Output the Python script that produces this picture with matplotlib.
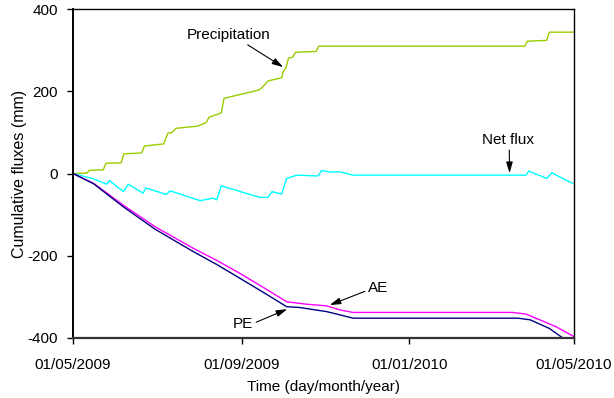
import numpy as np
import matplotlib
matplotlib.use("Agg")
import matplotlib.pyplot as plt
import matplotlib.dates as mdates

plt.rcParams['font.family'] = ['Liberation Sans', 'DejaVu Sans']
plt.rcParams['axes.unicode_minus'] = False

start = np.datetime64('2009-05-01')

# cumulative precipitation (days since 01/05/2009, mm)
precip_days = [0, 10, 12, 22, 24, 35, 37, 50, 52, 66, 69, 72, 75, 90, 92, 97, 99,
               106, 108, 110, 135, 137, 142, 144, 152, 153, 155, 157, 160, 162,
               177, 179, 329, 331, 345, 347, 365]
precip_vals = [0, 1, 8, 9, 25, 26, 48, 50, 67, 72, 98, 100, 110, 115, 117, 124, 137,
               145, 148, 183, 203, 207, 225, 227, 233, 248, 256, 281, 283, 295,
               297, 310, 310, 322, 324, 344, 344]

# net flux
net_days = [0, 14, 24.5, 26.5, 36.6, 40.3, 51, 53, 68, 70.6, 92.5, 102, 104.6, 108,
            136, 142, 145, 152, 155.6, 163, 178.5, 181, 187, 194.5, 204, 330, 332,
            345, 349, 352, 364]
net_vals = [0, -12, -26, -17, -44, -26, -48, -35, -51, -42, -66, -60, -64, -30,
            -58, -58, -44, -50, -12, -4, -6, 7, 4, 4, -4, -4, 6,
            -12, 2, -4, -24]

# actual evaporation
ae_days = [0, 15, 36.6, 60, 87.6, 105, 121.6, 140, 155.6, 170, 184.7, 194.5, 204,
           320, 330, 340, 352, 365]
ae_vals = [0, -24, -77, -130, -182, -212, -243, -280, -312, -318, -322, -332, -338,
           -338, -342, -356, -373, -397]

# potential evaporation
pe_days = [0, 15, 36.6, 60, 87.6, 105, 121.6, 140, 155.6, 165, 184.7, 194.5, 204,
           324, 333, 347, 358, 365]
pe_vals = [0, -25, -81, -136, -190, -222, -255, -292, -324, -326, -336, -344, -352,
           -352, -356, -377, -403, -420]


def to_dates(days):
    return start + (np.array(days) * 24 * 3600).astype('timedelta64[s]')


fig = plt.figure(figsize=(6.14, 3.98), dpi=100)
ax = fig.add_axes([0.119, 0.151, 0.816, 0.826])

ax.plot(to_dates(precip_days), precip_vals, color='#99cc00', lw=1)
ax.plot(to_dates(net_days), net_vals, color='#00ffff', lw=1)
ax.plot(to_dates(ae_days), ae_vals, color='#ff00ff', lw=1)
ax.plot(to_dates(pe_days), pe_vals, color='#000080', lw=1)

ax.set_ylim(-400, 400)
ax.set_yticks([-400, -200, 0, 200, 400])
ax.set_xlim(to_dates([0])[0], to_dates([365])[0])
ax.set_xticks(to_dates([0, 123, 245, 365]))
ax.xaxis.set_major_formatter(mdates.DateFormatter('%d/%m/%Y'))

ax.tick_params(direction='out', length=4, width=1, labelsize=11)
ax.tick_params(axis='x', pad=10.5)
ax.tick_params(axis='y', pad=7)
for s in ax.spines.values():
    s.set_linewidth(1)
ax.spines['bottom'].set_linewidth(1.6)
ax.spines['bottom'].set_color('#333333')
ax.spines['left'].set_linewidth(1.4)

ax.set_xlabel('Time (day/month/year)', fontsize=11, labelpad=5.5)
ax.set_ylabel('Cumulative fluxes (mm)', fontsize=11.5, labelpad=0)

arrow = dict(arrowstyle='-|>,head_length=0.6,head_width=0.18', lw=0.8,
             color='black', shrinkA=0, shrinkB=0)
ax.annotate('Precipitation', xy=(to_dates([153])[0], 259),
            xytext=(to_dates([113])[0], 337), ha='center', va='center',
            fontsize=11, arrowprops=dict(arrow, relpos=(0.68, 0)))
ax.annotate('Net flux', xy=(to_dates([318])[0], 1),
            xytext=(to_dates([317])[0], 81), ha='center', va='center',
            fontsize=11, arrowprops=dict(arrow, relpos=(0.52, 0)))
ax.annotate('AE', xy=(to_dates([187])[0], -320),
            xytext=(to_dates([222])[0], -279), ha='center', va='center',
            fontsize=11, arrowprops=dict(arrow, relpos=(0, 0.35)))
ax.annotate('PE', xy=(to_dates([156])[0], -330),
            xytext=(to_dates([124])[0], -366), ha='center', va='center',
            fontsize=11, arrowprops=dict(arrow, relpos=(1.1, 0.6)))

fig.savefig('out.png', dpi=100)
